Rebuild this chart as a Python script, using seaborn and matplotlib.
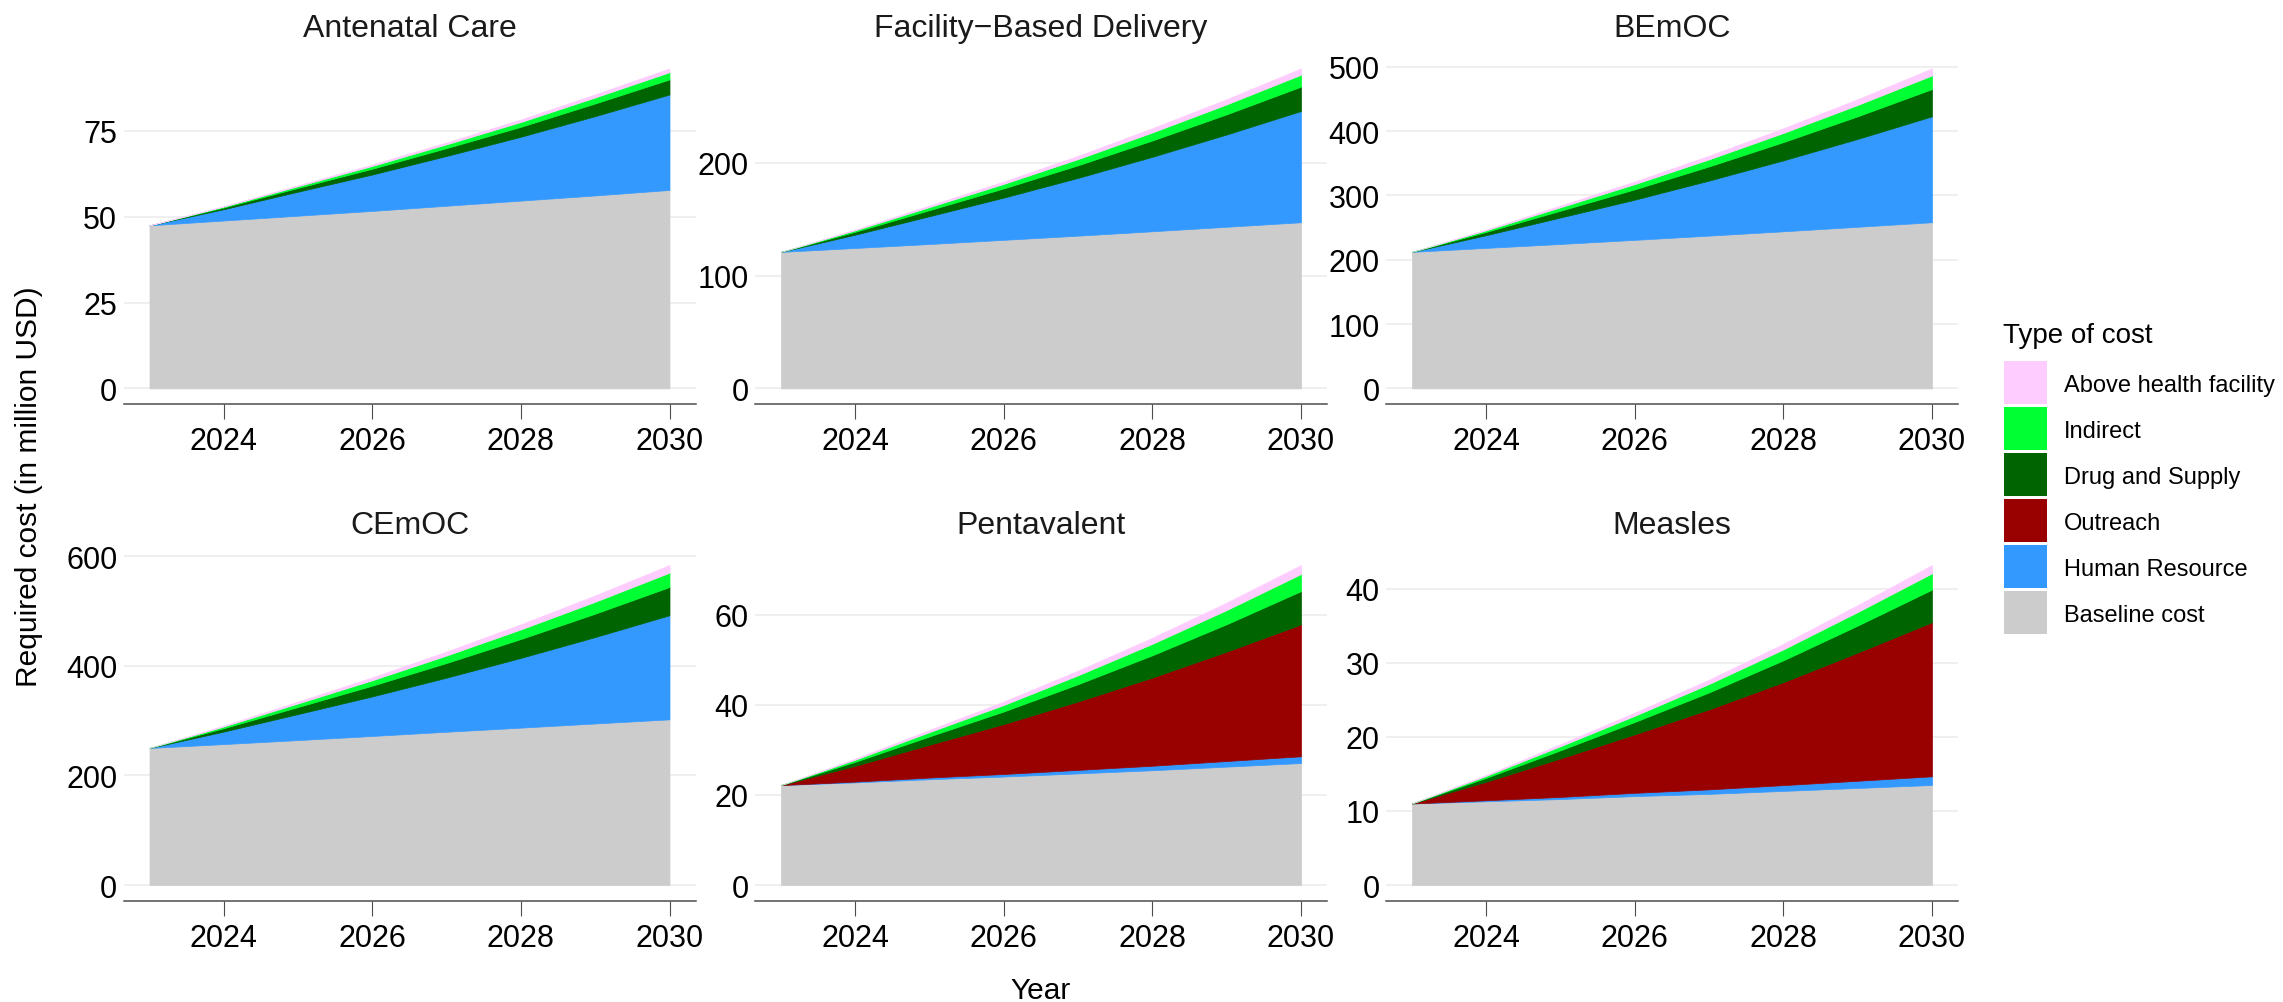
import matplotlib
matplotlib.use("Agg")
import matplotlib.pyplot as plt
from matplotlib.patches import Rectangle
from matplotlib.ticker import MultipleLocator, FixedLocator
import pandas as pd
import seaborn as sns

# ---------------------------------------------------------------- data
years = [2023, 2024, 2025, 2026, 2027, 2028, 2029, 2030]

programs = ["Antenatal Care", "Facility\u2212Based Delivery", "BEmOC",
            "CEmOC", "Pentavalent", "Measles"]

cost_types = ["Baseline cost", "Human Resource", "Outreach",
              "Drug and Supply", "Indirect", "Above health facility"]

baseline_cost = {
    "Antenatal Care": [47.5, 48.9, 50.3, 51.7, 53.2, 54.7, 56.2, 57.8],
    "Facility\u2212Based Delivery": [121.1, 124.6, 128.1, 131.8, 135.5, 139.4, 143.4, 147.4],
    "BEmOC": [212.2, 218.4, 224.5, 230.9, 237.5, 244.2, 251.2, 258.3],
    "CEmOC": [249.9, 257.0, 264.3, 271.8, 279.5, 287.0, 294.6, 302.1],
    "Pentavalent": [22.2, 22.8, 23.5, 24.1, 24.8, 25.5, 26.3, 27.1],
    "Measles": [11.0, 11.3, 11.6, 12.0, 12.3, 12.7, 13.1, 13.5],
}
human_resource = {
    "Antenatal Care": [0, 3.3, 7.0, 10.6, 14.5, 18.6, 23.1, 27.8],
    "Facility\u2212Based Delivery": [0, 11.8, 24.7, 37.5, 51.3, 66.1, 81.9, 98.7],
    "BEmOC": [0, 19.8, 41.2, 62.5, 85.6, 110.3, 136.6, 164.6],
    "CEmOC": [0, 22.8, 47.5, 72.2, 98.7, 127.2, 157.6, 189.9],
    "Pentavalent": [0, 0.18, 0.38, 0.57, 0.78, 1.0, 1.25, 1.5],
    "Measles": [0, 0.14, 0.29, 0.44, 0.61, 0.78, 0.97, 1.17],
}
outreach = {
    "Antenatal Care": [0, 0, 0, 0, 0, 0, 0, 0],
    "Facility\u2212Based Delivery": [0, 0, 0, 0, 0, 0, 0, 0],
    "BEmOC": [0, 0, 0, 0, 0, 0, 0, 0],
    "CEmOC": [0, 0, 0, 0, 0, 0, 0, 0],
    "Pentavalent": [0, 3.5, 7.3, 11.1, 15.2, 19.6, 24.3, 29.3],
    "Measles": [0, 2.5, 5.2, 7.9, 10.8, 13.9, 17.3, 20.8],
}
drug_supply = {
    "Antenatal Care": [0, 0.5, 1.1, 1.7, 2.3, 2.9, 3.7, 4.4],
    "Facility\u2212Based Delivery": [0, 2.6, 5.4, 8.2, 11.2, 14.5, 17.9, 21.6],
    "BEmOC": [0, 5.1, 10.6, 16.1, 22.0, 28.4, 35.2, 42.4],
    "CEmOC": [0, 6.2, 12.9, 19.6, 26.8, 34.5, 42.7, 51.5],
    "Pentavalent": [0, 0.9, 1.85, 2.8, 3.85, 4.95, 6.1, 7.4],
    "Measles": [0, 0.53, 1.1, 1.67, 2.29, 2.95, 3.65, 4.4],
}
indirect = {
    "Antenatal Care": [0, 0.25, 0.5, 0.8, 1.1, 1.4, 1.75, 2.1],
    "Facility\u2212Based Delivery": [0, 1.3, 2.7, 4.0, 5.5, 7.1, 8.8, 10.6],
    "BEmOC": [0, 2.5, 5.3, 8.1, 11.0, 14.2, 17.6, 21.2],
    "CEmOC": [0, 3.1, 6.5, 9.9, 13.6, 17.5, 21.7, 26.1],
    "Pentavalent": [0, 0.46, 0.95, 1.44, 1.98, 2.55, 3.15, 3.8],
    "Measles": [0, 0.26, 0.55, 0.84, 1.14, 1.47, 1.83, 2.2],
}
above_facility = {
    "Antenatal Care": [0, 0.13, 0.28, 0.42, 0.57, 0.74, 0.91, 1.1],
    "Facility\u2212Based Delivery": [0, 0.7, 1.4, 2.1, 2.9, 3.8, 4.6, 5.6],
    "BEmOC": [0, 1.3, 2.7, 4.1, 5.7, 7.3, 9.0, 10.9],
    "CEmOC": [0, 1.7, 3.5, 5.3, 7.3, 9.4, 11.6, 14.0],
    "Pentavalent": [0, 0.24, 0.5, 0.76, 1.04, 1.34, 1.66, 2.0],
    "Measles": [0, 0.13, 0.28, 0.43, 0.58, 0.75, 0.93, 1.12],
}

y_tick_steps = [25, 100, 100, 200, 20, 10]
x_ticks = [2024, 2026, 2028, 2030]

palette = {
    "Above health facility": "#FFCCFF",
    "Indirect": "#00FF33",
    "Drug and Supply": "#006400",
    "Outreach": "#990000",
    "Human Resource": "#3399FF",
    "Baseline cost": "#CCCCCC",
}

# long-format table
series_by_type = {
    "Baseline cost": baseline_cost,
    "Human Resource": human_resource,
    "Outreach": outreach,
    "Drug and Supply": drug_supply,
    "Indirect": indirect,
    "Above health facility": above_facility,
}
rows = []
for ctype, table in series_by_type.items():
    for prog, vals in table.items():
        for yr, v in zip(years, vals):
            rows.append({"Program": prog, "Type": ctype, "Year": yr, "Cost": v})
df = pd.DataFrame(rows)

# ---------------------------------------------------------------- style
sns.set_theme(style="white")
plt.rcParams["font.family"] = ["Liberation Sans", "DejaVu Sans"]

W, H = 2283, 1003
fig = plt.figure(figsize=(W / 100, H / 100), dpi=100)
fig.patch.set_facecolor("white")

col_left = [123.5, 755.0, 1386.0]
panel_w = 572.0
row_top = [53.4, 550.0]
panel_h = 352.0

for i, prog in enumerate(programs):
    r, c = divmod(i, 3)
    left = col_left[c]
    top = row_top[r]
    ax = fig.add_axes([left / W, 1 - (top + panel_h) / H, panel_w / W, panel_h / H])

    wide = (df[df["Program"] == prog]
            .pivot(index="Year", columns="Type", values="Cost")
            .reindex(columns=cost_types))
    layers = [t for t in cost_types if wide[t].abs().sum() > 0]
    polys = ax.stackplot(wide.index.values, *[wide[t].values for t in layers],
                         colors=[palette[t] for t in layers], linewidth=0.5)
    for p, t in zip(polys, layers):
        p.set_edgecolor(palette[t])

    top_val = wide[layers].sum(axis=1).max()
    ax.set_ylim(-0.05 * top_val, 1.05 * top_val)
    ax.set_xlim(2023 - 0.35, 2030 + 0.35)

    ax.yaxis.set_major_locator(MultipleLocator(y_tick_steps[i]))
    ax.xaxis.set_major_locator(FixedLocator(x_ticks))
    ax.grid(axis="y", color="#EBEBEB", linewidth=1.1)
    ax.grid(axis="x", visible=False)
    ax.set_axisbelow(True)

    for s in ["top", "right", "left"]:
        ax.spines[s].set_visible(False)
    ax.spines["bottom"].set_color("#4D4D4D")
    ax.spines["bottom"].set_linewidth(1.1)

    ax.tick_params(axis="x", length=10.8, width=0.8, color="#4D4D4D",
                   pad=5, labelsize=22, labelcolor="black", bottom=True)
    ax.tick_params(axis="y", length=0, pad=4.5, labelsize=22, labelcolor="black")
    ax.set_xlabel("")
    ax.set_ylabel("")
    ax.set_title(prog, fontsize=23, pad=11.5, color="#1A1A1A")

fig.text(29 / W, 1 - 487 / H, "Required cost (in million USD)", rotation=90,
         ha="center", va="center", fontsize=21.5, color="black")
fig.text(1041 / W, 1 - 999 / H, "Year", ha="center", va="baseline",
         fontsize=21.5, color="black")

# legend: title, colour keys and labels
legend_order = ["Above health facility", "Indirect", "Drug and Supply",
                "Outreach", "Human Resource", "Baseline cost"]
fig.text(2002.7 / W, 1 - 342.7 / H, "Type of cost", ha="left", va="baseline",
         fontsize=20, color="black")
key_x, key_w, key_h, key_step, key_top = 2004.0, 43.0, 42.7, 46.0, 362.0
for k, label in enumerate(legend_order):
    y0 = key_top + k * key_step
    fig.add_artist(Rectangle((key_x / W, 1 - (y0 + key_h) / H), key_w / W, key_h / H,
                             transform=fig.transFigure, facecolor=palette[label],
                             edgecolor="none"))
    fig.text(2064 / W, 1 - (y0 + key_h / 2 + 8.4) / H, label, ha="left",
             va="baseline", fontsize=17, color="black")

fig.savefig("out.png", dpi=100, facecolor="white")
